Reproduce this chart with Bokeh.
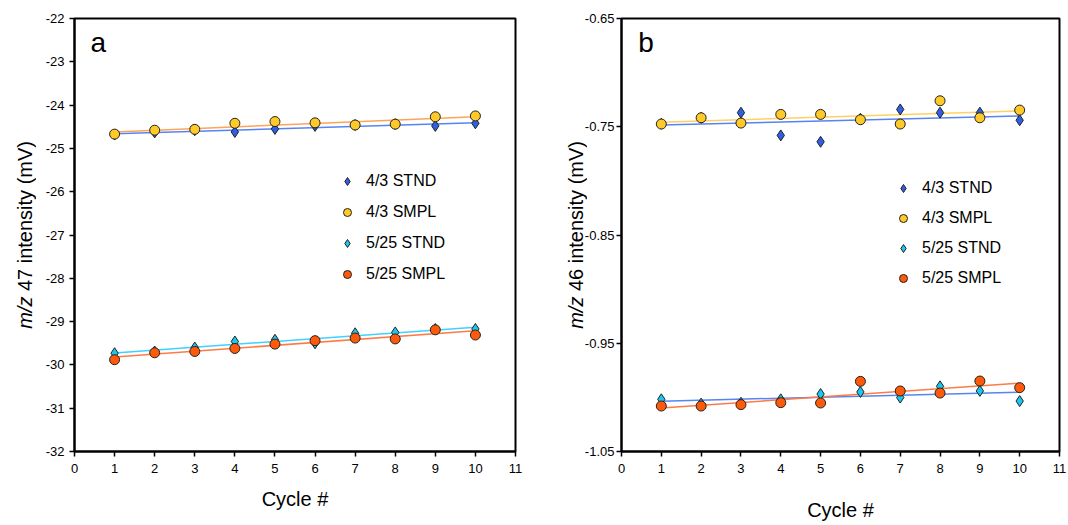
import numpy as np
from bokeh.plotting import figure
from bokeh.layouts import row
from bokeh.models import Range1d, FixedTicker, Label, Legend, LegendItem, NumeralTickFormatter, Div
from bokeh.embed import file_html
from bokeh.resources import INLINE

# ---------------- data ----------------
cycles = [1, 2, 3, 4, 5, 6, 7, 8, 9, 10]

# panel a: m/z 47 intensity (mV)
a_stnd_43 = [-24.68, -24.63, -24.58, -24.62, -24.55, -24.48, -24.46, -24.44, -24.48, -24.42]
a_smpl_43 = [-24.67, -24.58, -24.56, -24.42, -24.38, -24.41, -24.46, -24.44, -24.27, -24.25]
a_stnd_525 = [-29.73, -29.69, -29.60, -29.46, -29.42, -29.50, -29.27, -29.25, -29.17, -29.17]
a_smpl_525 = [-29.88, -29.72, -29.69, -29.62, -29.52, -29.44, -29.38, -29.40, -29.19, -29.31]

# panel b: m/z 46 intensity (mV)
b_stnd_43 = [-0.7472, -0.7417, -0.7370, -0.7580, -0.7639, -0.7426, -0.7340, -0.7370, -0.7370, -0.7440]
b_smpl_43 = [-0.7475, -0.7417, -0.7466, -0.7386, -0.7386, -0.7435, -0.7475, -0.7260, -0.7417, -0.7346]
b_stnd_525 = [-1.0018, -1.0058, -1.0050, -1.0018, -0.9969, -0.9950, -1.0002, -0.9898, -0.9940, -1.0034]
b_smpl_525 = [-1.0080, -1.0080, -1.0067, -1.0049, -1.0052, -0.9852, -0.9941, -0.9960, -0.9849, -0.9910]

series_names = ["4/3 STND", "4/3 SMPL", "5/25 STND", "5/25 SMPL"]
x_ticks = [0, 1, 2, 3, 4, 5, 6, 7, 8, 9, 10, 11]
a_y_ticks = [-32, -31, -30, -29, -28, -27, -26, -25, -24, -23, -22]
b_y_ticks = [-1.05, -0.95, -0.85, -0.75, -0.65]

# ---------------- styles ----------------
C_STND43 = "#2f5fe8"
C_SMPL43 = "#ffc928"
C_STND525 = "#19c8f0"
C_SMPL525 = "#ff5a0a"
FONT = "Liberation Sans"
H = 525


def fit(xs, ys):
    m, c = np.polyfit(xs, ys, 1)
    x0, x1 = min(xs), max(xs)
    return [x0, x1], [m * x0 + c, m * x1 + c]


def ylabel_div(num, width, pad_left):
    html = (
        f'<div style="width:{width}px;height:433px;margin-top:18px;display:flex;'
        f'align-items:center;justify-content:flex-start;padding-left:{pad_left}px;'
        f'box-sizing:border-box;overflow:visible;">'
        f'<span style="writing-mode:vertical-rl;transform:rotate(180deg);white-space:nowrap;'
        f'font-family:\'Liberation Sans\',Arial,sans-serif;font-size:20px;color:#000;line-height:18px;">'
        f'<i>m/z</i> {num} intensity (mV)</span></div>'
    )
    return Div(text=html, width=width, height=H, margin=0,
               styles={"overflow": "visible", "padding": "0", "margin": "0"})


def make_panel(letter, ylo, yhi, yticks, fmt, series, line_colors,
               width, border_left, border_right, legend_loc, legend_spacing,
               letter_x, letter_y, ytick_standoff, xlabel_standoff):
    p = figure(width=width, height=H, x_range=Range1d(0, 11), y_range=Range1d(ylo, yhi),
               output_backend="svg", toolbar_location=None,
               min_border_left=border_left, min_border_right=border_right,
               min_border_top=18, min_border_bottom=74)
    p.grid.visible = False
    p.outline_line_color = "black"
    p.outline_line_width = 2
    p.background_fill_color = "white"
    p.border_fill_color = "white"
    p.border_fill_alpha = 0

    for ax in (p.xaxis[0], p.yaxis[0]):
        ax.axis_line_width = 2
        ax.axis_line_color = "black"
        ax.major_tick_in = 0
        ax.major_tick_out = 5
        ax.major_tick_line_width = 1.5
        ax.major_tick_line_color = "black"
        ax.minor_tick_line_color = None
        ax.major_label_text_font = FONT
        ax.major_label_text_font_size = "13px"
        ax.major_label_text_color = "black"
    p.xaxis.ticker = FixedTicker(ticks=x_ticks)
    p.yaxis.ticker = FixedTicker(ticks=yticks)
    p.yaxis.formatter = NumeralTickFormatter(format=fmt)
    p.xaxis.major_label_standoff = 7
    p.yaxis.major_label_standoff = ytick_standoff
    p.xaxis.axis_label = "Cycle #"
    p.xaxis.axis_label_text_font = FONT
    p.xaxis.axis_label_text_font_style = "normal"
    p.xaxis.axis_label_text_font_size = "20px"
    p.xaxis.axis_label_text_color = "black"
    p.xaxis.axis_label_standoff = xlabel_standoff

    # fit lines
    for (ys, _, _, _), lc in zip(series, line_colors):
        fx, fy = fit(cycles, ys)
        p.line(fx, fy, line_color=lc, line_width=1.5)

    # markers
    renderers = []
    for ys, color, marker, name in series:
        if marker == "diamond":
            r = p.scatter(cycles, ys, marker="diamond", size=11,
                          fill_color=color, line_color="#222222", line_width=1)
        else:
            r = p.scatter(cycles, ys, marker="circle", size=10,
                          fill_color=color, line_color="#222222", line_width=1)
        renderers.append((name, r))

    legend = Legend(items=[LegendItem(label=n, renderers=[r]) for n, r in renderers],
                    location=legend_loc, orientation="vertical")
    legend.border_line_color = None
    legend.background_fill_alpha = 0
    legend.padding = 0
    legend.margin = 0
    legend.spacing = legend_spacing
    legend.glyph_width = 20
    legend.glyph_height = 20
    legend.label_height = 20
    legend.label_standoff = 9
    legend.label_text_font = FONT
    legend.label_text_font_size = "16px"
    legend.label_text_color = "black"
    p.add_layout(legend, "center")

    # panel letter
    p.add_layout(Label(x=letter_x, y=letter_y, text=letter, text_font=FONT,
                       text_font_size="28px", text_color="black",
                       text_baseline="alphabetic", text_align="left"))
    return p


series_a = [
    (a_stnd_43, C_STND43, "diamond", series_names[0]),
    (a_smpl_43, C_SMPL43, "circle", series_names[1]),
    (a_stnd_525, C_STND525, "diamond", series_names[2]),
    (a_smpl_525, C_SMPL525, "circle", series_names[3]),
]
series_b = [
    (b_stnd_43, C_STND43, "diamond", series_names[0]),
    (b_smpl_43, C_SMPL43, "circle", series_names[1]),
    (b_stnd_525, C_STND525, "diamond", series_names[2]),
    (b_smpl_525, C_SMPL525, "circle", series_names[3]),
]

# widths: Div_a 36 | fig_a 38+441+45 | Div_b 19 | fig_b 42+438+8
pa = make_panel("a", -32, -22, a_y_ticks, "0", series_a,
                ["#5585f2", "#ffa35a", "#3fd2ff", "#ff7a45"],
                width=524, border_left=38, border_right=45,
                legend_loc=(263, 167), legend_spacing=11,
                letter_x=0.4, letter_y=-22.55, ytick_standoff=5, xlabel_standoff=12)
pb = make_panel("b", -1.05, -0.65, b_y_ticks, "0.00", series_b,
                ["#5585f2", "#ffd066", "#5585f2", "#ff7a45"],
                width=488, border_left=42, border_right=8,
                legend_loc=(272, 163), legend_spacing=10,
                letter_x=0.42, letter_y=-0.672, ytick_standoff=2, xlabel_standoff=23)

da = ylabel_div("47", 36, 16)
db = ylabel_div("46", 19, 7)

layout = row(da, pa, db, pb, spacing=0)
open("out.html", "w").write(file_html(layout, INLINE))
